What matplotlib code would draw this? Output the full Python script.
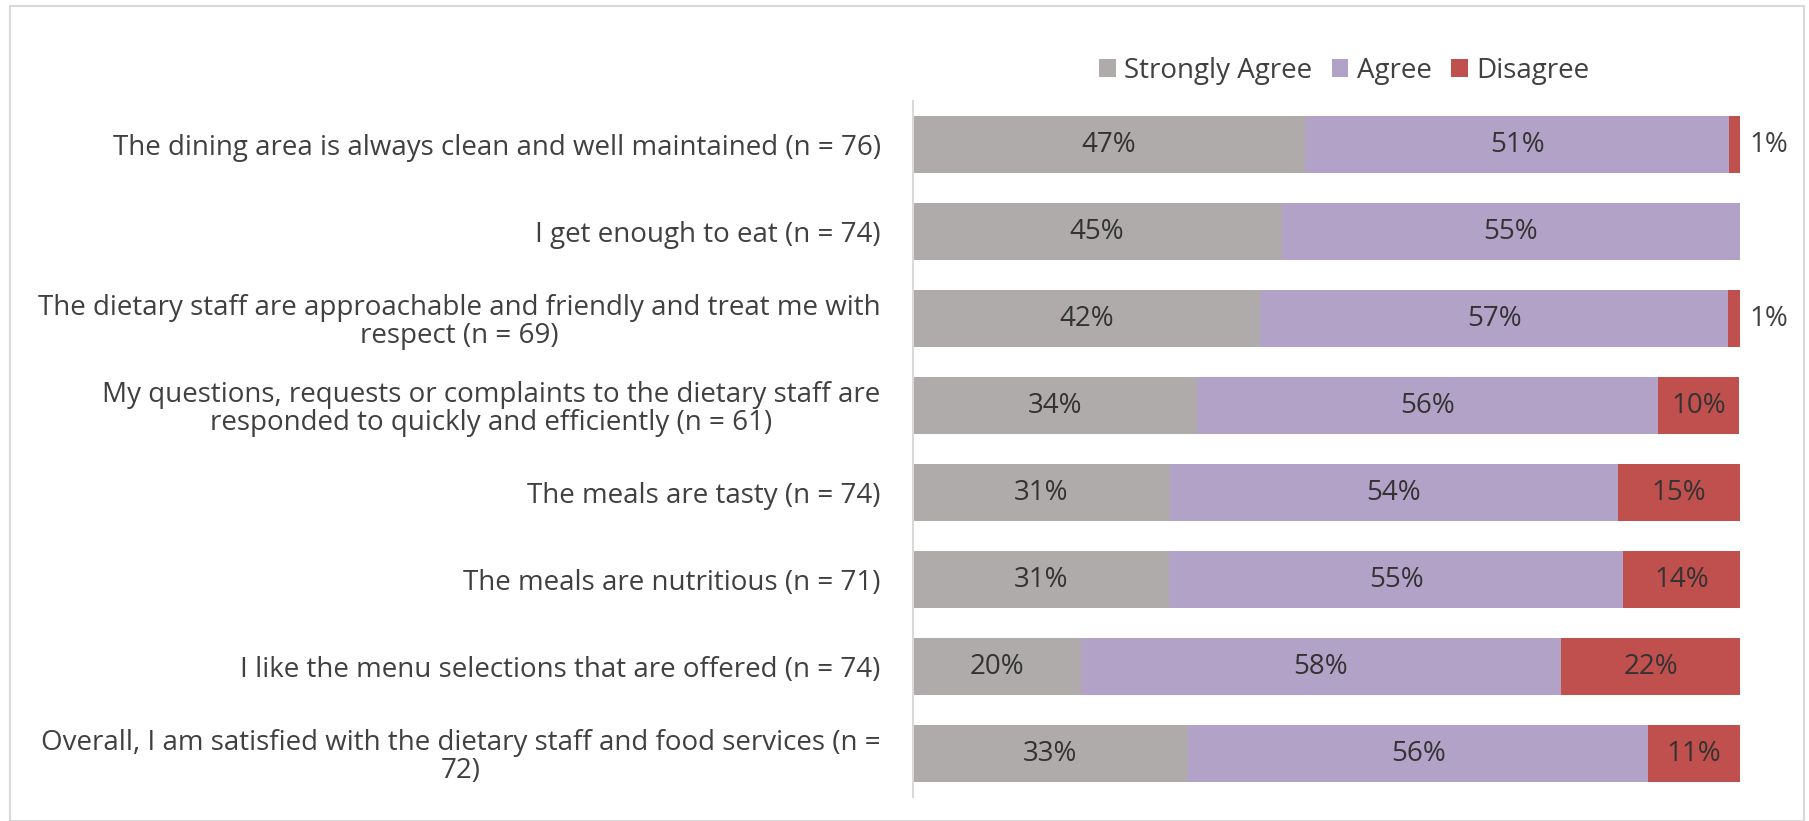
import matplotlib.pyplot as plt
from matplotlib.patches import Rectangle
import numpy as np

plt.rcParams['font.family'] = ['Open Sans', 'DejaVu Sans']

questions = [
    'The dining area is always clean and well maintained (n = 76)',
    'I get enough to eat (n = 74)',
    'The dietary staff are approachable and friendly and treat me with\nrespect (n = 69)',
    'My questions, requests or complaints to the dietary staff are\nresponded to quickly and efficiently (n = 61)',
    'The meals are tasty (n = 74)',
    'The meals are nutritious (n = 71)',
    'I like the menu selections that are offered (n = 74)',
    'Overall, I am satisfied with the dietary staff and food services (n =\n72)',
]
strongly_agree = [47.4, 44.6, 42.0, 34.4, 31.1, 31.0, 20.3, 33.3]
agree = [51.3, 55.4, 56.6, 55.7, 54.1, 54.9, 58.1, 55.6]
disagree = [1.3, 0.0, 1.4, 9.8, 14.9, 14.1, 21.6, 11.1]

series = [('Strongly Agree', strongly_agree, '#AFABAB'),
          ('Agree', agree, '#B3A2C7'),
          ('Disagree', disagree, '#C0504D')]

text_col = '#404040'
fs = 20

fig = plt.figure(figsize=(18.09, 8.21), dpi=100)
fig.patches.append(Rectangle((10 / 1809, 0.0), 1794 / 1809, 1 - 6 / 821,
                             transform=fig.transFigure, fill=False,
                             edgecolor='#D9D9D9', linewidth=1.5))
ax = fig.add_axes([912.6 / 1809, 1 - 797 / 821, (1740 - 912.6) / 1809, (797 - 101) / 821])

y = np.arange(len(questions))
left = np.zeros(len(questions))
for name, vals, col in series:
    vals = np.array(vals)
    bars = ax.barh(y, vals, left=left, height=0.66, color=col, label=name, linewidth=0)
    for b, v in zip(bars, vals):
        if v <= 0:
            continue
        lbl = f'{v:.0f}%'
        cy = b.get_y() + b.get_height() / 2
        if v < 3:
            # too narrow for the text, put it past the bar end
            ax.annotate(lbl, (b.get_x() + b.get_width(), cy), xytext=(7, 0),
                        textcoords='offset points', ha='left', va='center',
                        fontsize=fs, color=text_col)
        else:
            ax.text(b.get_x() + b.get_width() / 2, cy, lbl, ha='center', va='center',
                    fontsize=fs, color='#333333')
    left += vals

ax.set_xlim(0, 100)
ax.set_ylim(len(questions) - 0.5, -0.5)
ax.set_yticks(y)
ax.set_yticklabels(questions, fontsize=fs, color=text_col, multialignment='center',
                   linespacing=1.0)
ax.tick_params(axis='y', length=0, pad=23)
ax.set_xticks([])
for s in ['top', 'right', 'bottom']:
    ax.spines[s].set_visible(False)
ax.spines['left'].set_color('#D9D9D9')
ax.spines['left'].set_linewidth(1.5)

fig.legend(loc='center', bbox_to_anchor=(1344 / 1809, 1 - 71 / 821), ncol=3,
           frameon=False, fontsize=fs, labelcolor=text_col, handlelength=0.6,
           handleheight=0.6, handletextpad=0.3, columnspacing=0.7)

fig.savefig('out.png', dpi=100)
